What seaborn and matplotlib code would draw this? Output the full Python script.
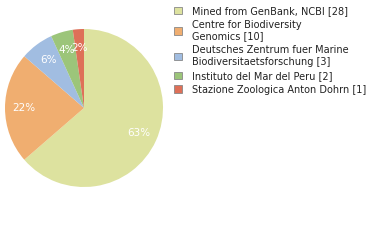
import math

import matplotlib
matplotlib.use("Agg")
import matplotlib.pyplot as plt
import matplotlib.patches as mpatches
import seaborn as sns

institutions = [
    "Mined from GenBank, NCBI",
    "Centre for Biodiversity\nGenomics",
    "Deutsches Zentrum fuer Marine\nBiodiversitaetsforschung",
    "Instituto del Mar del Peru",
    "Stazione Zoologica Anton Dohrn",
]
counts = [28, 10, 3, 2, 1]
colors = ["#dde29f", "#f0ae70", "#a1bde1", "#9cc57a", "#de7058"]

sns.set_theme(style="white")
plt.rcParams["font.family"] = ["DejaVu Sans"]

fig = plt.figure(figsize=(3.8, 2.4), dpi=100)
ax = fig.add_axes([5 / 380, 53 / 240, 158 / 380, 158 / 240])

wedges, texts, autotexts = ax.pie(
    counts,
    colors=colors,
    startangle=90,
    counterclock=False,
    autopct=lambda p: f"{math.floor(p + 1e-9)}%",
    pctdistance=0.76,
    wedgeprops={"linewidth": 0},
    textprops={"color": "white", "fontsize": 7.5},
)
ax.set_aspect("equal")
ax.set_xlim(-1, 1)
ax.set_ylim(-1, 1)
ax.axis("off")

handles = [
    mpatches.Patch(facecolor=c, edgecolor="#888888", linewidth=0.6)
    for c in colors
]
labels = [f"{name} [{n}]" for name, n in zip(institutions, counts)]
fig.legend(
    handles,
    labels,
    loc="upper left",
    bbox_to_anchor=(168 / 380, 1.0),
    frameon=False,
    fontsize=7,
    labelcolor="#222222",
    handlelength=0.8,
    handleheight=0.8,
    handletextpad=1.1,
    labelspacing=0.4,
    borderaxespad=0.2,
)

fig.savefig("out.png", dpi=100)
